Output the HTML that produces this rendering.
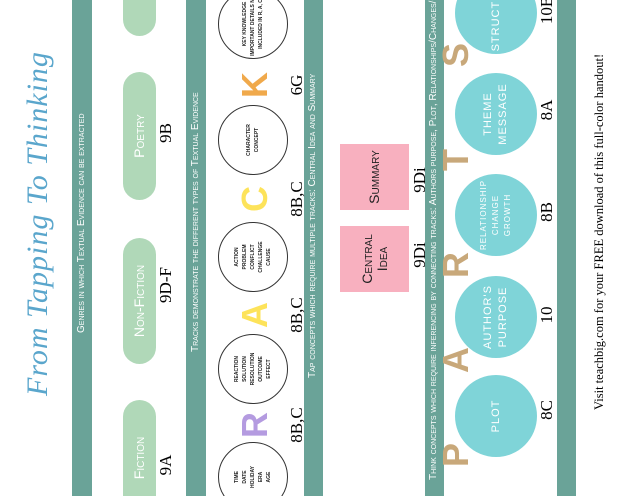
<!DOCTYPE html>
<html><head><meta charset="utf-8"><style>
html,body{margin:0;padding:0;background:#fff;width:620px;height:496px;overflow:hidden;}
#w{position:relative;width:620px;height:496px;overflow:hidden;}
#p{position:absolute;left:0;top:0;width:496px;height:620px;transform-origin:0 0;transform:translate(0,496px) rotate(-90deg);font-family:"Liberation Sans Narrow","Liberation Sans",sans-serif;}
#p div{position:absolute;}
.band{left:0;width:496px;background:#6aa398;}
.bt{color:#fff;font-size:10px;white-space:nowrap;font-variant:small-caps;line-height:1;}
.pill{background:#b0d8b8;border-radius:17px;height:33px;top:123px;color:#fff;font-size:14px;line-height:33px;text-align:center;font-variant:small-caps;}
.lab{font-family:"Liberation Serif",serif;font-size:17px;color:#000;line-height:1;text-align:center;width:50px;}
.oc{width:68px;height:68px;border:1px solid #333;border-radius:50%;top:218px;display:flex;align-items:center;justify-content:center;text-align:center;font-size:5px;line-height:8px;font-weight:bold;text-transform:uppercase;color:#222;}
.let{font-family:"Liberation Sans",sans-serif;font-weight:bold;font-size:36px;line-height:36px;width:40px;text-align:center;}
.cc{width:82px;height:82px;border-radius:50%;background:#7fd4d8;top:455px;color:#fff;display:flex;align-items:center;justify-content:center;text-align:center;font-size:11px;line-height:15px;text-transform:uppercase;letter-spacing:1px;}
.pk{background:#f8b0bf;top:340px;height:69px;width:66px;display:flex;align-items:center;justify-content:center;text-align:center;font-size:14px;line-height:15px;font-variant:small-caps;color:#222;}
</style></head><body><div id="w">
<div id="p">
<div style="left:100px;top:18px;font-family:'Liberation Serif',serif;font-style:italic;font-size:30px;color:#5aa6cc;white-space:nowrap;letter-spacing:1px;line-height:40px;width:304px;text-align:center;">From Tapping To Thinking</div>

<div class="band" style="top:72px;height:20px"></div>
<div class="bt" style="left:163px;top:77px">Genres in which Textual Evidence can be extracted</div>
<div class="band" style="top:186px;height:20px"></div>
<div class="bt" style="left:144px;top:191px">Tracks demonstrate the different types of Textual Evidence</div>
<div class="band" style="top:304px;height:19px"></div>
<div class="bt" style="left:118px;top:308px">Tap concepts which require multiple tracks: Central Idea and Summary</div>
<div class="band" style="top:425px;height:19px"></div>
<div class="bt" style="left:16px;top:429px">Think concepts which require inferencing by connecting tracks: Authors purpose, Plot, Relationships/Changes/Growth, Theme/Message</div>
<div class="band" style="top:557px;height:19px"></div>

<div class="pill" style="left:-20px;width:116px">Fiction</div>
<div class="pill" style="left:132px;width:126px">Non-Fiction</div>
<div class="pill" style="left:296px;width:128px">Poetry</div>
<div class="pill" style="left:460px;width:80px"></div>
<div class="lab" style="left:6px;top:157px">9A</div>
<div class="lab" style="left:186px;top:157px">9D-F</div>
<div class="lab" style="left:338px;top:157px">9B</div>

<div class="oc" style="left:-16px">Time<br>Date<br>Holiday<br>Era<br>Age</div>
<div class="oc" style="left:92px">Reaction<br>Solution<br>Resolution<br>Outcome<br>Effect</div>
<div class="oc" style="left:204px">Action<br>Problem<br>Conflict<br>Challenge<br>Cause</div>
<div class="oc" style="left:321px">Character<br>Concept</div>
<div class="oc" style="left:437px">Key Knowledge<br>Important details not<br>included in R, A, C</div>
<div class="let" style="left:51px;top:237px;color:#b49be0">R</div>
<div class="let" style="left:161px;top:237px;color:#fde35a">A</div>
<div class="let" style="left:277px;top:237px;color:#fde35a">C</div>
<div class="let" style="left:391px;top:237px;color:#f0a94b">K</div>
<div class="lab" style="left:46px;top:288px">8B,C</div>
<div class="lab" style="left:156px;top:288px">8B,C</div>
<div class="lab" style="left:272px;top:288px">8B,C</div>
<div class="lab" style="left:386px;top:288px">6G</div>

<div class="pk" style="left:204px">Central<br>Idea</div>
<div class="pk" style="left:286px">Summary</div>
<div class="lab" style="left:216px;top:411px">9Di</div>
<div class="lab" style="left:291px;top:411px">9Di</div>

<div class="cc" style="left:39px">Plot</div>
<div class="cc" style="left:138px">Author's<br>Purpose</div>
<div class="cc" style="left:240px;font-size:8px;line-height:12px">Relationship<br>Change<br>Growth</div>
<div class="cc" style="left:341px">Theme<br>Message</div>
<div class="cc" style="left:442px">Structure</div>
<div class="let" style="left:21px;top:438px;color:#c8a87a">P</div>
<div class="let" style="left:116px;top:438px;color:#c8a87a">A</div>
<div class="let" style="left:211px;top:438px;color:#c8a87a">R</div>
<div class="let" style="left:316px;top:438px;color:#c8a87a">T</div>
<div class="let" style="left:421px;top:438px;color:#c8a87a">S</div>
<div class="lab" style="left:61px;top:538px">8C</div>
<div class="lab" style="left:156px;top:538px">10</div>
<div class="lab" style="left:259px;top:538px">8B</div>
<div class="lab" style="left:361px;top:538px">8A</div>
<div class="lab" style="left:461px;top:538px">10B</div>

<div style="left:86px;top:592px;font-family:'Liberation Serif',serif;font-size:12.5px;white-space:nowrap;color:#000">Visit teachbig.com for your FREE download of this full-color handout!</div>
</div>
</div></body></html>
